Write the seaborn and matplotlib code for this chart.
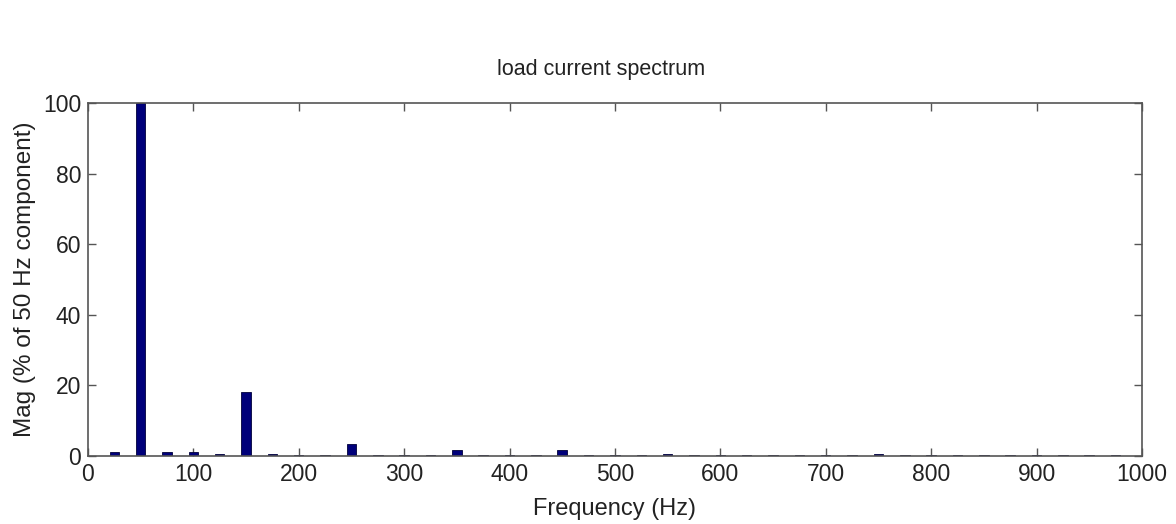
import numpy as np
import pandas as pd
import matplotlib
matplotlib.use("Agg")
import matplotlib.pyplot as plt
import seaborn as sns

# Harmonic spectrum of the load current, bins every 25 Hz
freq_hz = [25, 50, 75, 100, 125, 150, 175, 200, 225, 250,
           275, 300, 325, 350, 375, 400, 425, 450, 475, 500,
           525, 550, 575, 600, 625, 650, 675, 700, 725, 750,
           775, 800, 825, 850, 875, 900, 925, 950, 975]
mag_pct = [1.0, 100.0, 1.2, 1.0, 0.6, 18.0, 0.5, 0.3, 0.3, 3.3,
           0.3, 0.2, 0.3, 1.6, 0.3, 0.3, 0.3, 1.6, 0.3, 0.3,
           0.3, 0.5, 0.3, 0.3, 0.3, 0.3, 0.3, 0.3, 0.3, 0.5,
           0.3, 0.3, 0.3, 0.3, 0.3, 0.3, 0.3, 0.3, 0.3]
x_ticks = [0, 100, 200, 300, 400, 500, 600, 700, 800, 900, 1000]
y_ticks = [0, 20, 40, 60, 80, 100]

sns.set_style("white")
plt.rcParams["font.family"] = ["Liberation Sans", "DejaVu Sans"]

df = pd.DataFrame({"freq": freq_hz, "mag": mag_pct})

fig = plt.figure(figsize=(11.76, 5.24), dpi=100)
ax = fig.add_axes([0.0748, 0.1298, 0.8962, 0.6736])

sns.barplot(data=df, x="freq", y="mag", native_scale=True, width=0.36,
            color="#00007a", saturation=1, edgecolor="#00003a", linewidth=0.6,
            ax=ax)

ax.set_xlim(0, 1000)
ax.set_ylim(0, 100)
ax.set_xticks(x_ticks)
ax.set_yticks(y_ticks)
ax.set_xticklabels([str(v) for v in x_ticks])
ax.set_yticklabels([str(v) for v in y_ticks])

for side in ["left", "right", "top", "bottom"]:
    ax.spines[side].set_visible(True)
    ax.spines[side].set_color("#555555")
    ax.spines[side].set_linewidth(1.2)

ax.tick_params(axis="both", which="both", direction="in", length=6, width=1,
               color="#555555", top=True, right=True, bottom=True, left=True,
               labelsize=16.5, labelcolor="#222222")
ax.tick_params(axis="x", pad=5)
ax.tick_params(axis="y", pad=5)

ax.set_xlabel("Frequency (Hz)", fontsize=17, color="#222222", labelpad=9)
ax.set_ylabel("Mag (% of 50 Hz component)", fontsize=17.5, color="#222222", labelpad=5)
ax.set_title("load current spectrum", fontsize=15.5, color="#222222", pad=20, x=0.487)

fig.savefig("out.png", dpi=100, facecolor="white")
